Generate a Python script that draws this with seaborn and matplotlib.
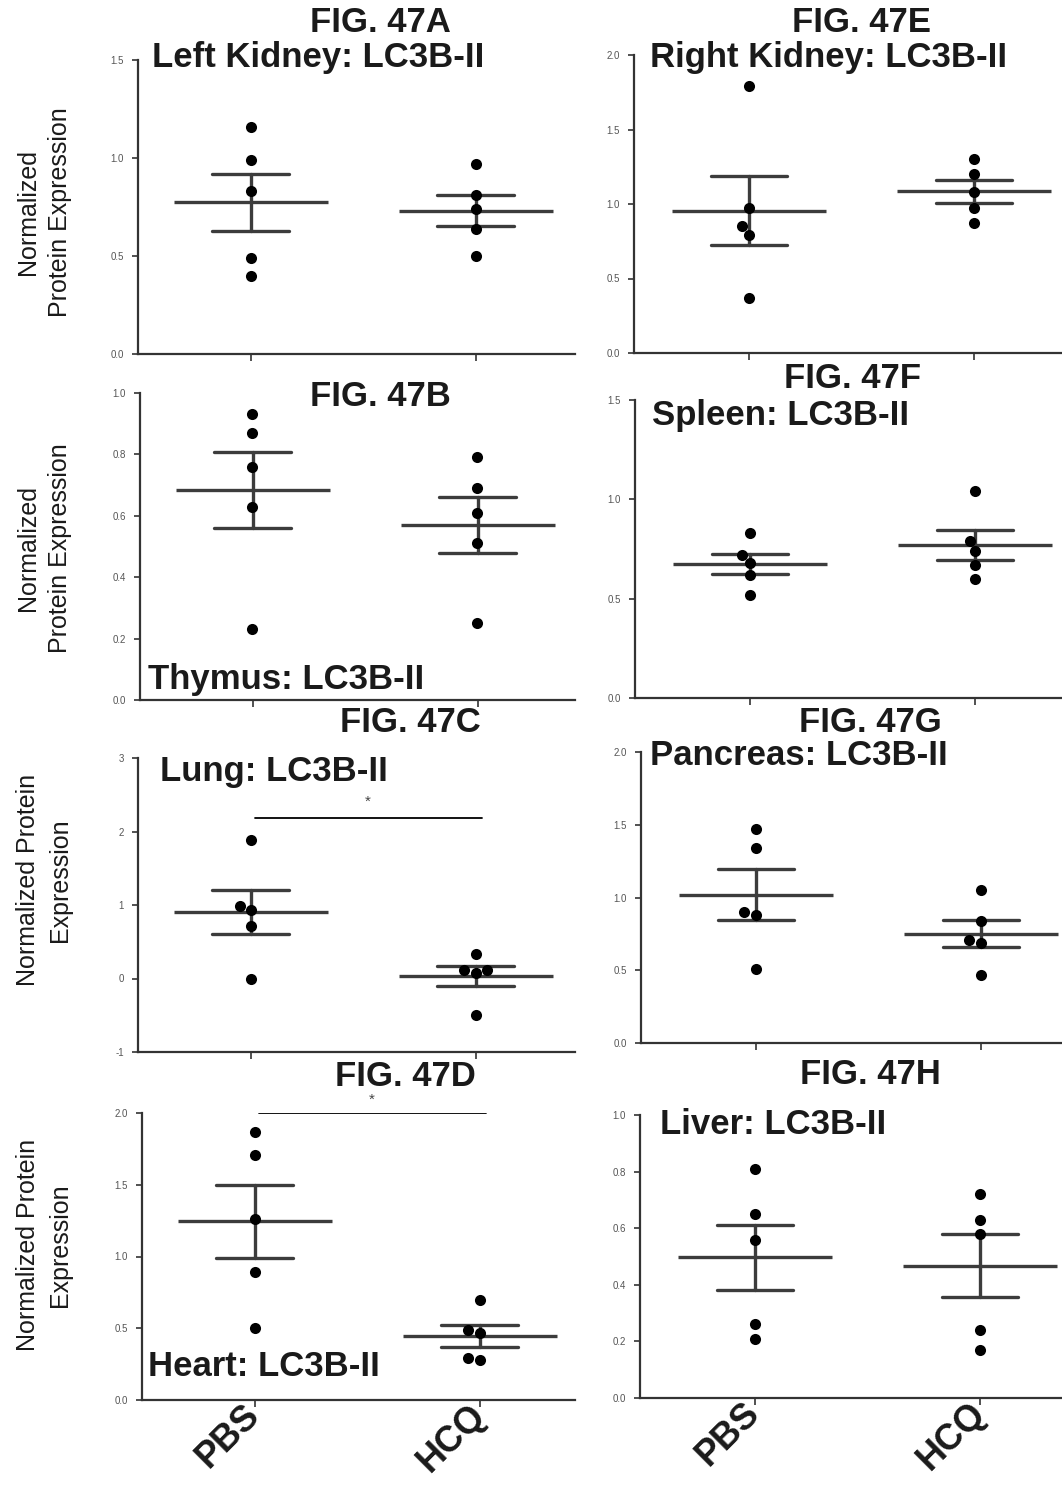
import numpy as np
import pandas as pd
import matplotlib
matplotlib.use("Agg")
import matplotlib.pyplot as plt
import seaborn as sns

sns.set_theme(style="ticks")
plt.rcParams["font.family"] = ["Liberation Sans", "DejaVu Sans"]

groups = ["PBS", "HCQ"]

# LC3B-II normalized expression, five animals per group
left_kidney_pbs = [1.16, 0.99, 0.83, 0.49, 0.40]
left_kidney_hcq = [0.97, 0.81, 0.74, 0.64, 0.50]
right_kidney_pbs = [1.79, 0.97, 0.85, 0.79, 0.37]
right_kidney_hcq = [1.30, 1.20, 1.08, 0.97, 0.87]
thymus_pbs = [0.93, 0.87, 0.76, 0.63, 0.23]
thymus_hcq = [0.79, 0.69, 0.61, 0.51, 0.25]
spleen_pbs = [0.83, 0.72, 0.68, 0.62, 0.52]
spleen_hcq = [1.04, 0.79, 0.74, 0.67, 0.60]
lung_pbs = [1.88, 0.99, 0.93, 0.71, 0.00]
lung_hcq = [0.34, 0.12, 0.11, 0.08, -0.49]
pancreas_pbs = [1.47, 1.34, 0.90, 0.88, 0.51]
pancreas_hcq = [1.05, 0.84, 0.71, 0.69, 0.47]
heart_pbs = [1.87, 1.71, 1.26, 0.89, 0.50]
heart_hcq = [0.70, 0.49, 0.47, 0.29, 0.28]
liver_pbs = [0.81, 0.65, 0.56, 0.26, 0.21]
liver_hcq = [0.72, 0.63, 0.58, 0.24, 0.17]

W, H = 1062, 1485
fig = plt.figure(figsize=(W / 100, H / 100), dpi=100)

def fx(x):
    return x / W

def fy(y):
    return 1 - y / H

def make_axes(l, t, r, b):
    return fig.add_axes([fx(l), fy(b), fx(r - l), (b - t) / H])

# (fig label, tissue label, pbs, hcq, box px, ylim, yticks, tick format,
#  fig-label pos, tissue-label pos, significance bar (y, star y))
panels = [
    ("FIG. 47A", "Left Kidney: LC3B-II", left_kidney_pbs, left_kidney_hcq,
     (138, 60, 575, 354), (0, 1.5), [0, 0.5, 1.0, 1.5], "{:.1f}", (380, 23), (152, 57), None),
    ("FIG. 47E", "Right Kidney: LC3B-II", right_kidney_pbs, right_kidney_hcq,
     (634, 55, 1062, 353), (0, 2.0), [0, 0.5, 1.0, 1.5, 2.0], "{:.1f}", (862, 22), (650, 58), None),
    ("FIG. 47B", "Thymus: LC3B-II", thymus_pbs, thymus_hcq,
     (140, 393, 575, 700), (0, 1.0), [0, 0.2, 0.4, 0.6, 0.8, 1.0], "{:.1f}", (380, 397), (148, 680), None),
    ("FIG. 47F", "Spleen: LC3B-II", spleen_pbs, spleen_hcq,
     (635, 400, 1062, 698), (0, 1.5), [0, 0.5, 1.0, 1.5], "{:.1f}", (852, 378), (652, 415), None),
    ("FIG. 47C", "Lung: LC3B-II", lung_pbs, lung_hcq,
     (138, 758, 575, 1052), (-1, 3), [-1, 0, 1, 2, 3], "{:.0f}", (410, 722), (160, 771), (2.18, 2.40)),
    ("FIG. 47G", "Pancreas: LC3B-II", pancreas_pbs, pancreas_hcq,
     (641, 752, 1062, 1043), (0, 2.0), [0, 0.5, 1.0, 1.5, 2.0], "{:.1f}", (870, 722), (650, 756), None),
    ("FIG. 47D", "Heart: LC3B-II", heart_pbs, heart_hcq,
     (142, 1113, 575, 1400), (0, 2.0), [0, 0.5, 1.0, 1.5, 2.0], "{:.1f}", (405, 1077), (148, 1366), (2.0, 2.09)),
    ("FIG. 47H", "Liver: LC3B-II", liver_pbs, liver_hcq,
     (640, 1115, 1062, 1398), (0, 1.0), [0, 0.2, 0.4, 0.6, 0.8, 1.0], "{:.1f}", (870, 1075), (660, 1125), None),
]

line_col = "#3c3c3c"
title_kw = dict(fontsize=25, fontweight="bold", color="#1a1a1a")

for i, (flab, tlab, pbs, hcq, box, ylim, yticks, fmt, fpos, tpos, sig) in enumerate(panels):
    l, t, r, b = box
    ax = make_axes(l, t, r, b)
    df = pd.DataFrame({
        "group": ["PBS"] * len(pbs) + ["HCQ"] * len(hcq),
        "value": pbs + hcq,
    })
    # mean (long bar) with SEM whiskers
    sns.pointplot(data=df, x="group", y="value", order=groups, ax=ax,
                  estimator="mean", errorbar="se", capsize=0.34,
                  color=line_col, linestyle="none", marker="_",
                  markersize=111, markeredgewidth=2.4,
                  err_kws={"linewidth": 2.4})
    sns.swarmplot(data=df, x="group", y="value", order=groups, ax=ax,
                  color="black", size=8, zorder=5)

    col_left = i % 2 == 0
    x_left = -0.5 if col_left else -0.51
    px_per_unit = 225.0
    x_right = x_left + (r - l) / px_per_unit
    ax.set_xlim(x_left, x_right)
    ax.set_ylim(*ylim)
    ax.set_yticks(yticks)
    ax.set_yticklabels([fmt.format(v) for v in yticks], fontsize=7, color="#555555")
    ax.set_xlabel("")
    ax.set_ylabel("")
    for s in ("top", "right"):
        ax.spines[s].set_visible(False)
    for s in ("left", "bottom"):
        ax.spines[s].set_linewidth(1.6)
        ax.spines[s].set_color("#333333")
    ax.tick_params(axis="y", length=4, width=1.2, color="#333333", pad=6)
    ax.tick_params(axis="x", length=5, width=1.2, color="#333333", pad=2)

    ax.set_xticks([0, 1])
    if i >= 6:
        ax.set_xticklabels(groups, rotation=45, ha="right", va="center",
                           rotation_mode="anchor", fontsize=26,
                           fontweight="bold", color="#1a1a1a")
    else:
        ax.set_xticklabels(["", ""])

    if sig is not None:
        ax.plot([0.02, 1.03], [sig[0], sig[0]], color="black", lw=1.3)
        ax.text(0.52, sig[1], "*", ha="center", va="center",
                fontsize=11, color="#444444")

    fig.text(fx(fpos[0]), fy(fpos[1]), flab, ha="center", va="center", **title_kw)
    fig.text(fx(tpos[0]), fy(tpos[1]), tlab, ha="left", va="center", **title_kw)

# shared y-axis titles for each row
ylab_kw = dict(rotation=90, ha="center", va="center", fontsize=18, color="#1a1a1a")
for yc, lines in [(212, ("Normalized", "Protein Expression")),
                  (548, ("Normalized", "Protein Expression")),
                  (880, ("Normalized Protein", "Expression")),
                  (1245, ("Normalized Protein", "Expression"))]:
    fig.text(fx(28), fy(yc), lines[0], **ylab_kw)
    fig.text(fx(60), fy(yc), lines[1], **ylab_kw)

fig.savefig("out.png", dpi=100, facecolor="white")
